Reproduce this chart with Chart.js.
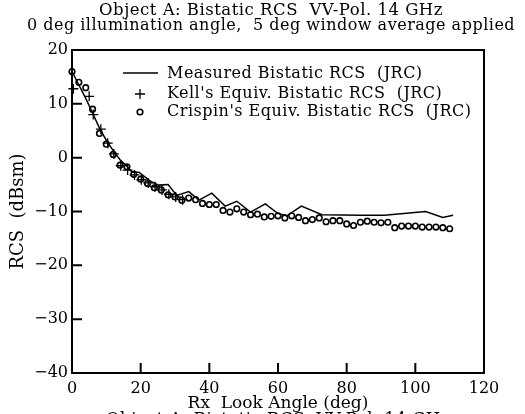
<!DOCTYPE html>
<html>
<head>
<meta charset="utf-8">
<script src="https://cdn.jsdelivr.net/npm/chart.js@4.4.1/dist/chart.umd.min.js"></script>
<style>
html, body { margin: 0; padding: 0; background: #fff; }
</style>
</head>
<body>
<canvas id="chart" width="525" height="414"></canvas>
<script>
var FONT = "'DejaVu Serif', serif";

var titleLines = ['Object A: Bistatic RCS  VV-Pol. 14 GHz', '0 deg illumination angle,  5 deg window average applied'];
var xTitle = 'Rx  Look Angle (deg)';
var yTitle = 'RCS  (dBsm)';

var xTicks = [0, 20, 40, 60, 80, 100, 120];
var yTicks = [-40, -30, -20, -10, 0, 10, 20];

var measuredLabel = 'Measured Bistatic RCS  (JRC)';
var measuredX = [0, 2, 4, 6, 8, 10, 12, 14, 16, 17.5, 19.5, 22.7, 25.2, 28, 30.5, 34, 37, 40.7, 44.6, 48, 52, 56.3, 60, 62.6, 66.8, 72.8, 84, 91, 103, 108, 111];
var measuredY = [16, 13.5, 11, 8.3, 5.5, 3.2, 1.3, -0.4, -1.6, -2.7, -2.7, -4.3, -5.1, -5.0, -7.0, -6.3, -7.9, -6.6, -9.0, -8.1, -10.1, -8.6, -10.4, -10.8, -9.0, -10.6, -10.7, -10.7, -10.0, -11.1, -10.7];

var kellLabel = "Kell's Equiv. Bistatic RCS  (JRC)";
var kellX = [0.4, 5, 6.2, 8.4, 10.4, 12.2, 14.2, 16.2, 18.2, 20.2, 22.2, 24.2, 26.2, 28.2, 30.2, 32.2];
var kellY = [12.8, 11.4, 8.0, 5.3, 2.7, 0.7, -1.5, -2.3, -3.2, -4.1, -4.7, -5.4, -6.0, -6.8, -7.3, -7.8];

var crispinLabel = "Crispin's Equiv. Bistatic RCS  (JRC)";
var crispinX = [0, 2, 4, 6, 8, 10, 12, 14, 16, 18, 20, 22, 24, 26, 28, 30, 32, 34, 36, 38, 40, 42, 44, 46, 48, 50, 52, 54, 56, 58, 60, 62, 64, 66, 68, 70, 72, 74, 76, 78, 80, 82, 84, 86, 88, 90, 92, 94, 96, 98, 100, 102, 104, 106, 108, 110];
var crispinY = [16.0, 14.0, 13.0, 9.0, 4.5, 2.5, 0.6, -1.4, -1.7, -3.1, -4.0, -4.8, -5.6, -6.0, -6.9, -7.3, -7.9, -7.5, -7.8, -8.5, -8.7, -8.7, -9.8, -10.1, -9.5, -10.1, -10.6, -10.5, -11.0, -10.9, -10.8, -11.2, -10.8, -11.1, -11.7, -11.5, -11.2, -11.9, -11.7, -11.7, -12.3, -12.6, -12.0, -11.8, -12.0, -12.1, -12.0, -13.0, -12.7, -12.7, -12.7, -12.9, -12.9, -12.9, -13.0, -13.2];

function pairs(xs, ys) {
    var out = [];
    for (var i = 0; i < xs.length; i++) {
        out.push({x: xs[i], y: ys[i]});
    }
    return out;
}

function minusSign(v) {
    return String(v).replace('-', '\u2212');
}

// frame, inward ticks, titles and the legend box
var decorPlugin = {
    id: 'decor',
    afterDraw: function(chart) {
        var ctx = chart.ctx;
        var a = chart.chartArea;
        var xs = chart.scales.x, ys = chart.scales.y;
        ctx.save();
        ctx.strokeStyle = '#000';
        ctx.lineWidth = 2;
        ctx.strokeRect(a.left, a.top, a.right - a.left, a.bottom - a.top);
        ctx.beginPath();
        xTicks.forEach(function(v) {
            var p = xs.getPixelForValue(v);
            ctx.moveTo(p, a.bottom);
            ctx.lineTo(p, a.bottom - 10);
        });
        yTicks.forEach(function(v) {
            var p = ys.getPixelForValue(v);
            ctx.moveTo(a.left, p);
            ctx.lineTo(a.left + 10, p);
        });
        ctx.stroke();

        ctx.fillStyle = '#000';
        ctx.textAlign = 'center';
        ctx.textBaseline = 'middle';
        ctx.letterSpacing = '0.5px';
        ctx.font = '16.5px ' + FONT;
        ctx.fillText(titleLines[0], 271, 11);
        ctx.font = '16px ' + FONT;
        ctx.fillText(titleLines[1], 271, 26);
        ctx.font = '16.5px ' + FONT;
        ctx.textBaseline = 'top';
        ctx.fillText(titleLines[0], 278, 411);

        // legend
        ctx.textAlign = 'left';
        ctx.textBaseline = 'middle';
        ctx.font = '16px ' + FONT;
        ctx.lineWidth = 1.5;
        ctx.beginPath();
        ctx.moveTo(123, 73);
        ctx.lineTo(158, 73);
        ctx.stroke();
        ctx.beginPath();
        ctx.moveTo(135, 94); ctx.lineTo(145, 94);
        ctx.moveTo(140, 89); ctx.lineTo(140, 99);
        ctx.lineWidth = 1.3;
        ctx.stroke();
        ctx.beginPath();
        ctx.arc(140, 112, 2.8, 0, Math.PI * 2);
        ctx.lineWidth = 1.6;
        ctx.stroke();
        ctx.fillText(chart.data.datasets[0].label, 167, 74);
        ctx.fillText(chart.data.datasets[1].label, 167, 94);
        ctx.fillText(chart.data.datasets[2].label, 167, 112);
        ctx.restore();
    }
};

var ctx = document.getElementById('chart').getContext('2d');
var chart = new Chart(ctx, {
    type: 'scatter',
    data: {
        datasets: [{
            label: measuredLabel,
            data: pairs(measuredX, measuredY),
            showLine: true,
            borderColor: '#000',
            borderWidth: 1.5,
            pointRadius: 0,
            fill: false,
            clip: false
        }, {
            label: kellLabel,
            data: pairs(kellX, kellY),
            pointStyle: 'cross',
            pointRadius: 5,
            borderColor: '#000',
            borderWidth: 1.3,
            backgroundColor: 'rgba(0,0,0,0)',
            clip: false
        }, {
            label: crispinLabel,
            data: pairs(crispinX, crispinY),
            pointStyle: 'circle',
            pointRadius: 2.8,
            borderColor: '#000',
            borderWidth: 1.6,
            backgroundColor: 'rgba(0,0,0,0)',
            clip: false
        }]
    },
    options: {
        responsive: false,
        animation: false,
        layout: {
            padding: {top: 50, right: 41, left: 0, bottom: 0}
        },
        plugins: {
            legend: {display: false},
            tooltip: {enabled: false},
            title: {display: false}
        },
        scales: {
            x: {
                type: 'linear',
                min: 0,
                max: 120,
                afterFit: function(scale) { scale.height = 41; },
                afterBuildTicks: function(scale) {
                    scale.ticks = xTicks.map(function(v) { return {value: v}; });
                },
                ticks: {
                    color: '#000',
                    padding: 6,
                    maxRotation: 0,
                    font: {family: FONT, size: 16}
                },
                grid: {drawOnChartArea: false, drawTicks: false},
                border: {display: false},
                title: {
                    display: true,
                    text: xTitle,
                    color: '#000',
                    padding: {top: 0, bottom: 0},
                    font: {family: FONT, size: 17}
                }
            },
            y: {
                type: 'linear',
                min: -40,
                max: 20,
                afterFit: function(scale) { scale.width = 72; },
                afterBuildTicks: function(scale) {
                    scale.ticks = yTicks.map(function(v) { return {value: v}; });
                },
                ticks: {
                    color: '#000',
                    padding: 4,
                    font: {family: FONT, size: 16},
                    callback: function(v) { return minusSign(v); }
                },
                grid: {drawOnChartArea: false, drawTicks: false},
                border: {display: false},
                title: {
                    display: true,
                    text: yTitle,
                    color: '#000',
                    padding: {top: 8, bottom: 0},
                    font: {family: FONT, size: 18}
                }
            }
        }
    },
    plugins: [decorPlugin]
});
</script>
</body>
</html>
